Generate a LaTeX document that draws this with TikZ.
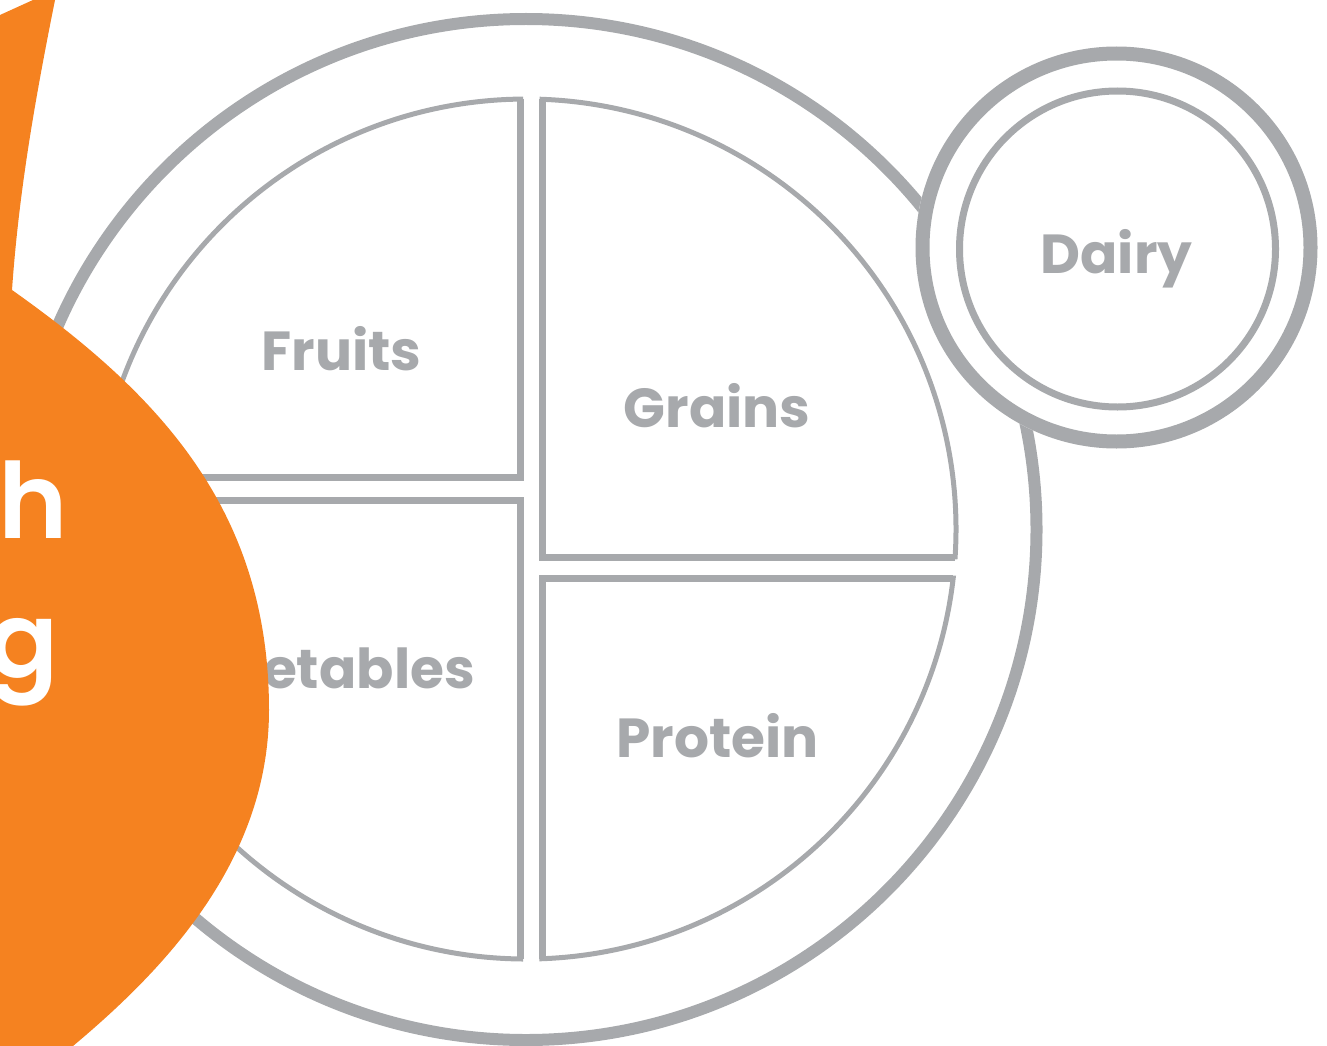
\documentclass[tikz,border=0pt]{standalone}
\usepackage{fontspec}
\setmainfont{Poppins}
\newfontfamily\popsemi{Poppins SemiBold}
\definecolor{plategray}{HTML}{A7A9AC}
\definecolor{brandorange}{HTML}{F58220}
\begin{document}
\begin{tikzpicture}[x=1pt,y=-1pt,
  quad/.style={draw=plategray, line width=5pt, line join=miter},
  quadedge/.style={draw=plategray, line width=7pt, line join=miter},
  lbl/.style={text=plategray, font=\bfseries\fontsize{55}{60}\selectfont, inner sep=0pt, anchor=base},
  bigletter/.style={text=white, font=\popsemi\fontsize{105}{105}\selectfont, inner sep=0pt, anchor=base west}]
\useasboundingbox (0,0) rectangle (1327,1046);
% plate rim
\draw[plategray, line width=12pt] (526,529.5) circle[radius=510.5];
% quadrants
\draw[quad] (520.5,477) -- (99.2,477) arc[start angle=186.95, end angle=269.27, radius=430] -- cycle;
\draw[quadedge] (99.2,477) -- (520.5,477) -- (520.5,99);
\draw[quad] (542,557) -- (542,99.3) arc[start angle=272.13, end angle=363.73, radius=430] -- cycle;
\draw[quadedge] (955.1,557) -- (542,557) -- (542,99.3);
\draw[quad] (542,578) -- (953.2,578) arc[start angle=6.54, end angle=87.87, radius=430] -- cycle;
\draw[quadedge] (953.2,578) -- (542,578) -- (542,958.7);
\draw[quad] (520.5,500) -- (520.5,958.97) arc[start angle=90.73, end angle=183.87, radius=430] -- cycle;
\draw[quadedge] (97,500) -- (520.5,500) -- (520.5,958.97);
% labels
\node[lbl] (fruits) at (341.5,370) {Fruits};
\node[lbl] (grains) at (717,427) {Grains};
\node[lbl] (protein) at (717.5,757) {Protein};
\node[lbl, anchor=base east] (veg) at (475,688) {Vegetables};
% dairy cup
\fill[white] (1116.5,247.5) circle[radius=201];
\draw[plategray, line width=14pt] (1116.5,247.5) circle[radius=194];
\draw[plategray, line width=7pt] (1117.5,249) circle[radius=158];
\node[lbl] (dairy) at (1116.5,273) {Dairy};
% orange shapes
\fill[brandorange] (-11,20) -- (44,-5) -- (56,-5) -- (55,0)
  .. controls (35.4,98) and (19,190) .. (12,290)
  .. controls (159,394) and (269,510) .. (269,710)
  .. controls (269,860) and (165,969) .. (73,1046)
  -- (42,1072) -- (-10,1072) -- cycle;
\node[bigletter] (h) at (-2,538) {h};
\node[bigletter] (g) at (-13,677) {g};
\end{tikzpicture}
\end{document}
